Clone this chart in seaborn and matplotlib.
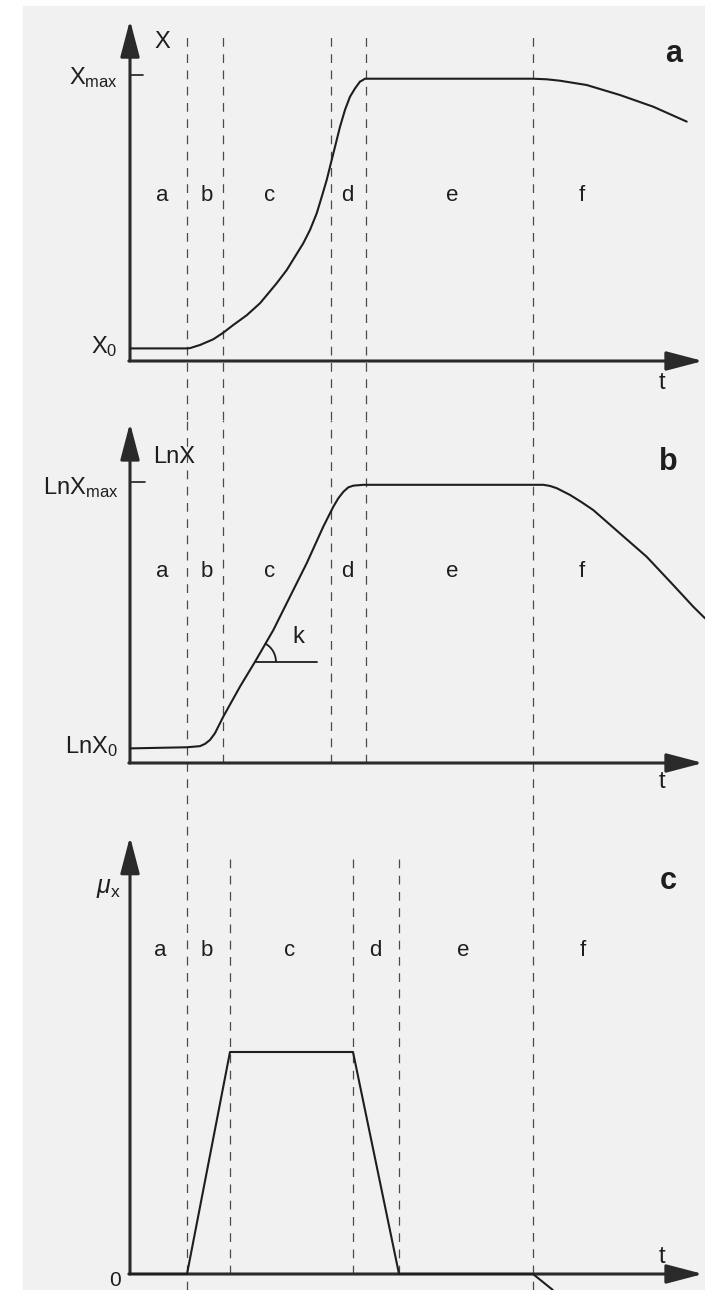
import numpy as np
import pandas as pd
import matplotlib
matplotlib.use("Agg")
import matplotlib.pyplot as plt
from matplotlib.patches import Arc, Rectangle
import seaborn as sns

# ---------------- data ----------------
phases = ["a", "b", "c", "d", "e", "f"]

# phase boundaries (time, arbitrary units)
edges_ab = [0.995, 1.623, 3.508, 4.119, 7.033]
edges_c = [0.995, 1.745, 3.892, 4.695, 7.033]

# phase letter positions along t
label_t_ab = [0.56, 1.34, 2.44, 3.80, 5.62, 7.89]
label_t_c = [0.52, 1.34, 2.79, 4.28, 5.81, 7.91]

# biomass X(t)
t_x = [0.0, 0.995, 1.047, 1.222, 1.454, 1.628, 1.803, 2.037, 2.269, 2.386,
       2.560, 2.735, 2.880, 3.025, 3.141, 3.258, 3.346, 3.433, 3.520, 3.578,
       3.665, 3.752, 3.839, 3.927, 4.014, 4.044, 4.101, 7.033, 7.270, 7.504,
       7.970, 8.551, 9.133, 9.716]
x_vals = [0.44, 0.44, 0.45, 0.56, 0.76, 0.99, 1.26, 1.60, 2.02, 2.30,
          2.72, 3.18, 3.65, 4.12, 4.58, 5.16, 5.74, 6.33, 7.03, 7.49,
          8.19, 8.78, 9.24, 9.53, 9.77, 9.80, 9.87, 9.87, 9.85, 9.80,
          9.65, 9.30, 8.89, 8.37]
X0, XMAX = 0.44, 10.0

# ln X(t)
t_ln = [0.0, 0.995, 1.222, 1.309, 1.396, 1.483, 1.628, 1.920, 2.181, 2.501,
        2.792, 3.084, 3.373, 3.548, 3.635, 3.723, 3.810, 3.897, 4.072, 7.038,
        7.213, 7.330, 7.447, 7.679, 7.883, 8.086, 8.551, 9.017, 9.482, 9.831,
        10.035]
ln_vals = [0.52, 0.56, 0.60, 0.68, 0.82, 1.06, 1.65, 2.72, 3.60, 4.73,
           5.92, 7.11, 8.41, 9.12, 9.42, 9.65, 9.81, 9.87, 9.90, 9.90,
           9.90, 9.86, 9.78, 9.54, 9.28, 9.00, 8.17, 7.34, 6.33, 5.56,
           5.15]
LNX0, LNXMAX = 0.53, 10.0

# specific growth rate mu_x(t)
t_mu = [0.0, 0.995, 1.745, 3.892, 4.695, 7.033, 7.36, 7.70]
mu_vals = [0.0, 0.0, 1.0, 1.0, 0.0, 0.0, -0.068, -0.16]

# slope marker k on the exponential phase
k_t, k_end_t = 2.181, 3.26

# ---------------- style ----------------
sns.set_style("white")
plt.rcParams["font.family"] = ["Liberation Sans", "DejaVu Sans"]
plt.rcParams["mathtext.fontset"] = "custom"
plt.rcParams["mathtext.rm"] = "Liberation Sans"
plt.rcParams["mathtext.it"] = "Liberation Sans:italic"
plt.rcParams["mathtext.bf"] = "Liberation Sans:bold"

INK = "#1e1e1e"
DASH = "#4a4a4a"
W, H = 705, 1290
fig = plt.figure(figsize=(W / 100, H / 100), dpi=100)
fig.patch.set_facecolor("white")
fig.patches.append(Rectangle((23 / W, 0), 1 - 23 / W, (H - 6) / H,
                             transform=fig.transFigure, color="#f1f1f1", zorder=-10))

T_PX = 57.3          # pixels per time unit
ORIGIN_PX = 130      # x pixel of the time origin
xlim = (-ORIGIN_PX / T_PX, (W - ORIGIN_PX) / T_PX)
T_TIP = 10.0


def make_axes(top_px, bot_px, zero_px, unit_px):
    ax = fig.add_axes([0, (H - bot_px) / H, 1, (bot_px - top_px) / H])
    ax.set_facecolor("none")
    ax.set_xlim(*xlim)
    ax.set_ylim(-(bot_px - zero_px) / unit_px, (zero_px - top_px) / unit_px)
    for s in ax.spines.values():
        s.set_visible(False)
    ax.set_xticks([])
    ax.set_yticks([])
    return ax


def draw_axes_arrows(ax, y_tip):
    style = "-|>,head_length=1.6,head_width=0.42"
    kw = dict(arrowstyle=style, lw=2.2, color="#2a2a2a", shrinkA=0, shrinkB=0,
              mutation_scale=14)
    ax.annotate("", xy=(0, y_tip), xytext=(0, 0), arrowprops=kw)
    ax.annotate("", xy=(T_TIP, 0), xytext=(-0.02, 0), arrowprops=kw)


def dashed(ax, t, y0, y1):
    ax.plot([t, t], [y0, y1], color=DASH, lw=0.9, dashes=(7, 6), zorder=1)


def curve(ax, t, y, name):
    df = pd.DataFrame({"t": t, name: y})
    sns.lineplot(data=df, x="t", y=name, ax=ax, sort=False, estimator=None,
                 color=INK, lw=1.5, zorder=3)
    ax.set_xlabel("")
    ax.set_ylabel("")


txt = dict(color=INK, ha="center", va="center")

# ---------------- panel a : X ----------------
ax_a = make_axes(0, 420, 361, 28.6)
ya0, ya1 = ax_a.get_ylim()
for e in edges_ab:
    dashed(ax_a, e, ya0, 11.33)
draw_axes_arrows(ax_a, 11.92)
curve(ax_a, t_x, x_vals, "X")
ax_a.plot([0, 0.227], [XMAX, XMAX], color=INK, lw=1.2)
ax_a.text(0.56, 11.15, "X", fontsize=17, **txt)
ax_a.text(-0.21, XMAX - 0.1, r"$\mathrm{X_{max}}$", fontsize=17, color=INK,
          ha="right", va="center")
ax_a.text(-0.21, X0 + 0.05, r"$\mathrm{X_{0}}$", fontsize=17, color=INK,
          ha="right", va="center")
for lt, p in zip(label_t_ab, phases):
    ax_a.text(lt, 5.8, p, fontsize=16, **txt)
ax_a.text(9.49, 10.75, "a", fontsize=22, fontweight="bold", **txt)
ax_a.text(9.28, -0.77, "t", fontsize=17, **txt)

# ---------------- panel b : ln X ----------------
ax_b = make_axes(420, 820, 763, 28.1)
yb0, yb1 = ax_b.get_ylim()
for i, e in enumerate(edges_ab):
    bottom = yb0 if i in (0, 4) else 0
    dashed(ax_b, e, bottom, yb1)
draw_axes_arrows(ax_b, 12.1)
curve(ax_b, t_ln, ln_vals, "LnX")
ax_b.plot([0, 0.26], [LNXMAX, LNXMAX], color=INK, lw=1.2)
ax_b.text(0.77, 10.9, "LnX", fontsize=17, **txt)
ax_b.text(-0.21, LNXMAX - 0.2, r"$\mathrm{LnX_{max}}$", fontsize=17, color=INK,
          ha="right", va="center")
ax_b.text(-0.21, LNX0 + 0.05, r"$\mathrm{LnX_{0}}$", fontsize=17, color=INK,
          ha="right", va="center")
for lt, p in zip(label_t_ab, phases):
    ax_b.text(lt, 6.8, p, fontsize=16, **txt)
ax_b.text(9.39, 10.7, "b", fontsize=22, fontweight="bold", **txt)
ax_b.text(9.28, -0.68, "t", fontsize=17, **txt)

# slope angle k
k_y = float(np.interp(k_t, t_ln, ln_vals))
ax_b.plot([k_t, k_end_t], [k_y, k_y], color=INK, lw=1.3, zorder=3)
i_k = t_ln.index(k_t)
ang = np.degrees(np.arctan2(ln_vals[i_k + 2] - ln_vals[i_k],
                            t_ln[i_k + 2] - t_ln[i_k]))
r_px = 21
ax_b.add_patch(Arc((k_t, k_y), 2 * r_px / T_PX, 2 * r_px / 28.1,
                   theta1=0, theta2=ang, color=INK, lw=1.3, zorder=3))
ax_b.text(2.93, 4.5, "k", fontsize=17, **txt)

# ---------------- panel c : mu_x ----------------
ax_c = make_axes(820, 1290, 1274, 222)
yc0, yc1 = ax_c.get_ylim()
for i, e in enumerate(edges_c):
    full = i in (0, 4)
    dashed(ax_c, e, yc0 if full else 0, yc1 if full else 1.88)
draw_axes_arrows(ax_c, 1.97)
curve(ax_c, t_mu, mu_vals, "mu")
ax_c.text(-0.38, 1.74, r"$\mu_{\mathrm{x}}$", fontsize=18, **txt)
ax_c.text(-0.26, -0.03, "0", fontsize=15, **txt)
for lt, p in zip(label_t_c, phases):
    ax_c.text(lt, 1.455, p, fontsize=16, **txt)
ax_c.text(9.39, 1.77, "c", fontsize=22, fontweight="bold", **txt)
ax_c.text(9.28, 0.075, "t", fontsize=17, **txt)

fig.savefig("out.png", dpi=100, facecolor=fig.get_facecolor())
